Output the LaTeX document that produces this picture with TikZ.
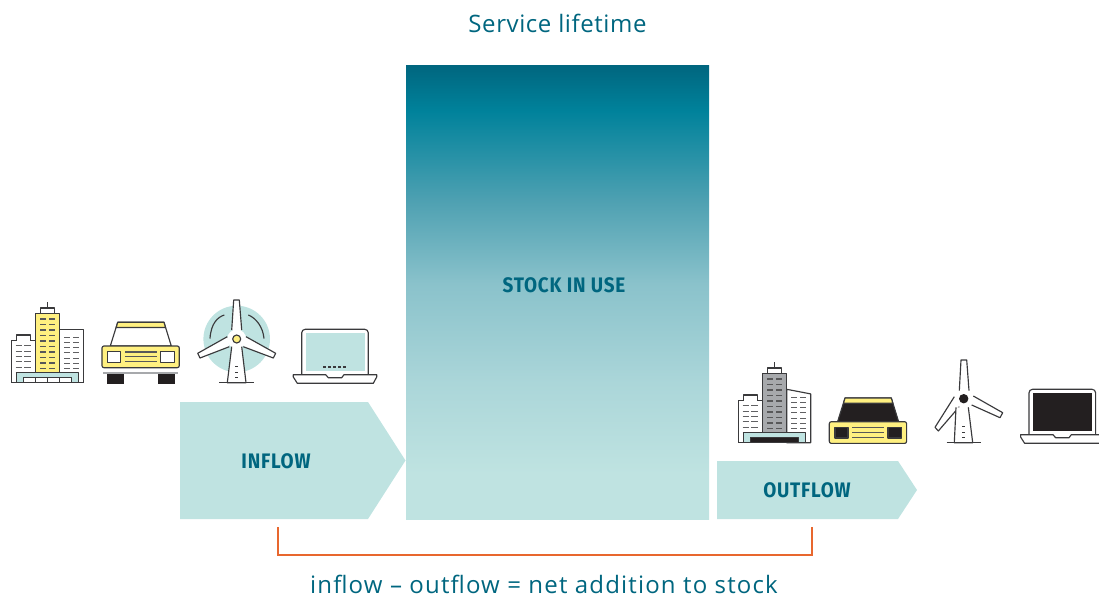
\documentclass[tikz,border=0pt]{standalone}
\usepackage{fontspec}
\setmainfont{Open Sans}
\newfontfamily\labelfont[FakeStretch=0.9,LetterSpace=3.6]{Fira Sans}
\definecolor{tealtxt}{HTML}{00667F}
\definecolor{palet}{HTML}{BFE3E1}
\definecolor{iconink}{HTML}{3A3A3C}
\definecolor{inkdark}{HTML}{231F20}
\definecolor{carY}{HTML}{FFF080}
\definecolor{towerG}{HTML}{A7A9AC}
\definecolor{brk}{HTML}{E8672E}
\definecolor{gA}{HTML}{00829B}
\definecolor{gB}{HTML}{4FA1B2}
\definecolor{gC}{HTML}{8AC2CB}
\definecolor{gD}{HTML}{ABD6D9}
\pgfdeclareverticalshading{stockshade}{100bp}{
 color(0bp)=(palet); color(30bp)=(palet); color(40bp)=(gD);
 color(51bp)=(gC); color(60bp)=(gB);
 color(70bp)=(gA);
 color(75bp)=(tealtxt); color(100bp)=(tealtxt)}
\tikzset{
 ink/.style={draw=iconink,line width=1.15pt,line join=round},
 winA/.style={draw=iconink!80,line width=1pt},
 winB/.style={draw=iconink!85,line width=1.25pt},
 bigtxt/.style={text=tealtxt,inner sep=0pt,font=\fontsize{24}{28}\selectfont},
 boxlabel/.style={text=tealtxt,inner sep=0pt,font=\labelfont\bfseries\fontsize{21}{24}\selectfont},
 flowshape/.style={fill=palet,draw=none}
}
% #1 dx, #2 dy, #3 tower fill, #4 door fill, #5 right block top y at the far side
\newcommand{\bldicon}[5]{\begin{scope}[shift={(#1,#2)}]
 \path[ink,fill=white] (11.3,382.7)--(11.3,340.7)--(35.3,340.7)--(35.3,382.7)--cycle;
 \path[ink,fill=white] (16.3,340.7)--(16.3,335)--(30.3,335)--(30.3,340.7);
 \path[ink,fill=white] (59.7,382.7)--(59.7,329.3)--(83.7,#5)--(83.7,382.7)--cycle;
 \path[ink,fill=#3] (35.3,372.7) rectangle (59.7,313.3);
 \path[ink,fill=white] (40.7,313.3) rectangle (54.3,308);
 \draw[ink] (47.3,308)--(47.3,301.7);
 \foreach \k in {0,...,5}{\draw[winA] (15.7,345.7+5.33*\k)--(21.7,345.7+5.33*\k) (24,345.7+5.33*\k)--(31,345.7+5.33*\k);}
 \foreach \k in {0,...,6}{\draw[winA] (64,337+5.33*\k)--(70,337+5.33*\k) (73.3,337+5.33*\k)--(79.3,337+5.33*\k);}
 \foreach \k in {0,...,9}{\draw[winB] (40,319+5.5*\k)--(46,319+5.5*\k) (49.3,319+5.5*\k)--(55.3,319+5.5*\k);}
 \path[ink,fill=palet] (16.7,382.7)--(16.7,372.7)--(78.3,372.7)--(78.3,382.7)--cycle;
 \path[ink,fill=#4] (23.3,382.7)--(23.3,377.7)--(71.7,377.7)--(71.7,382.7)--cycle;
 \draw[ink] (11.3,382.7)--(83.7,382.7);
\end{scope}}
% #1 dx, #2 dy, #3 cabin fill, #4 window fill
\newcommand{\caricon}[4]{\begin{scope}[shift={(#1,#2)}]
 \path[ink,fill=#3] (110.3,346)--(117.7,322.3)--(164,322.3)--(171.3,346)--cycle;
 \path[ink,fill=carY] (117.7,322.3)--(164,322.3)--(165.5,327.5)--(116.2,327.5)--cycle;
 \path[ink,fill=carY,rounded corners=2pt] (102,346) rectangle (179.3,367.7);
 \path[ink,fill=#4] (107.7,351.7) rectangle (120.7,362.3);
 \path[ink,fill=#4] (160.7,351.7) rectangle (174.3,362.3);
 \draw[winB] (125,351.9)--(156.7,351.9) (125,356.8)--(156.7,356.8) (125,361.7)--(156.7,361.7);
\end{scope}}
% #1 dx, #2 dy, #3 screen fill
\newcommand{\lapicon}[3]{\begin{scope}[shift={(#1,#2)}]
 \path[ink,fill=white,rounded corners=3.5pt] (301.7,374.7)--(301.7,329.3)--(368.3,329.3)--(368.3,374.7);
 \path[fill=#3] (305.7,333) rectangle (365,371);
 \path[ink,fill=white] (293.3,374.7)--(325.7,374.7)--(328.3,377.7)--(341.7,377.7)--(344,374.7)--(376.7,374.7)--(376.7,377)--(373.3,383.3)--(297.3,383.3)--(293.3,377)--cycle;
\end{scope}}
\begin{document}
\begin{tikzpicture}[x=1pt,y=-1pt]
\useasboundingbox (0,0) rectangle (1099,596);
\clip (0,0) rectangle (1099,596);
% stock
\path[shading=stockshade] (406,65.5) rectangle (709,519.5);
\node[boxlabel] (stock) at (564,285) {STOCK IN USE};
\node[bigtxt,anchor=base] (life) at (557.5,32.5) {\addfontfeatures{LetterSpace=2.5}Service lifetime};
% flows
\path[flowshape] (180,402)--(368,402)--(405.5,460.5)--(368,519)--(180,519)--cycle;
\node[boxlabel] (inflow) at (276,461) {INFLOW};
\path[flowshape] (717,461)--(898,461)--(917,490)--(898,519)--(717,519)--cycle;
\node[boxlabel] (outflow) at (807,490) {OUTFLOW};
% bracket
\coordinate (bl) at (278,527);
\coordinate (br) at (812,527);
\draw[brk,line width=1.4pt] (bl)--(278,555)--(812,555)--(br);
\node[bigtxt,anchor=base] (eq) at (544,593) {\addfontfeatures{LetterSpace=4.9}inflow -- outflow = net addition to stock};
% icons, inflow side
\bldicon{0}{0}{carY}{white}{329.3}
\foreach \x in {35.7,47.7,59.7}{\draw[ink] (\x,377.7)--(\x,382.7);}
\caricon{0}{0}{white}{white}
\draw[draw=towerG,line width=1.6pt] (103.3,372.7)--(177.7,372.7);
\path[fill=inkdark] (107,373.5) rectangle (124,383.7);
\path[fill=inkdark] (158,373.5) rectangle (175,383.7);
% turbine 1
\path[fill=palet] (236.7,339) circle (33.3);
\path[fill=white] (236.7,339) circle (9.5);
\draw[ink] (210,338.5) .. controls (211,323) and (218,317) .. (224.3,315);
\draw[ink] (248.3,315) .. controls (256,318) and (263,327) .. (264,338.5);
\path[ink,fill=white] (231.7,330)--(233.7,300)--(239.3,300)--(241.7,330);
\path[ink,fill=white] (227.3,336.7)--(197.7,353.3)--(200,358)--(229.3,346.7);
\path[ink,fill=white] (246,336.7)--(275.7,353.3)--(273.3,358)--(243.3,346.7);
\path[ink,fill=white] (231.7,346.7)--(227.3,382.7)--(246,382.7)--(241.7,346.7);
\path[ink,fill=carY] (236.7,339) circle (4);
\foreach \y in {366.7,372.3,377.7}{\draw[ink] (235,\y)--(238.3,\y);}
\draw[ink] (219.3,382.7)--(254,382.7);
\lapicon{0}{0}{palet}
\draw[iconink,line width=1.1pt,dash pattern=on 3pt off 2pt] (323.3,367)--(347.3,367);
% icons, outflow side
\bldicon{727}{60}{towerG}{inkdark}{333.9}
\caricon{727.3}{75.7}{inkdark}{inkdark}
% turbine 2
\path[ink,fill=white] (959.3,390.7)--(961,360)--(966.7,360)--(969,390.7);
\path[ink,fill=white] (973.3,396)--(1002.7,412.7)--(1000,417.7)--(971.7,405);
\path[ink,fill=white] (954.3,396.7)--(935,427.3)--(938.3,431)--(959.3,406.7);
\path[ink,fill=white] (956,407.3)--(954.3,442.7)--(972.7,442.7)--(968.3,407.3);
\path[fill=inkdark] (963.7,398.7) circle (4.7);
\foreach \y in {426.7,432.3,437.7}{\draw[ink] (962,\y)--(965.3,\y);}
\draw[ink] (946.7,442.7)--(981.3,442.7);
\lapicon{727.3}{60}{inkdark}
\end{tikzpicture}
\end{document}
